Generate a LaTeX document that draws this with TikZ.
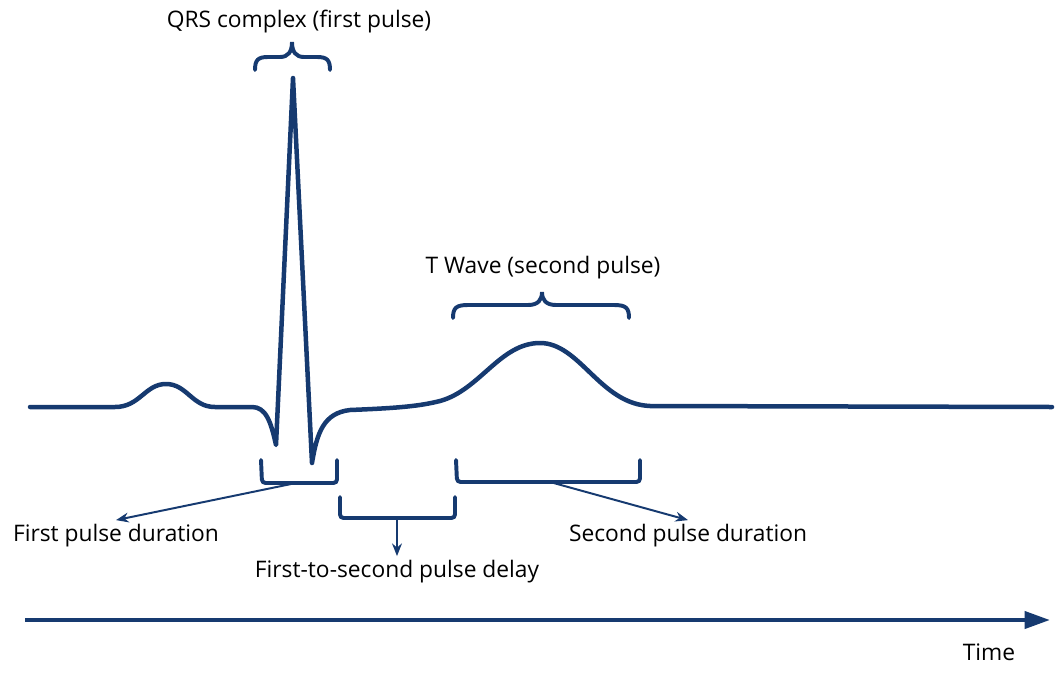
\documentclass[tikz,border=0pt]{standalone}
\usepackage{fontspec}
\setmainfont{Open Sans}
\usetikzlibrary{arrows.meta,calc}
\definecolor{ecgblue}{RGB}{22,58,112}
\tikzset{
  wave/.style = {draw=ecgblue, line width=3.2pt, line join=round, line cap=round},
  brace_line/.style = {draw=ecgblue, line width=2.8pt, line cap=round},
  bracket_line/.style = {brace_line, rounded corners=2.5pt},
  pointer/.style = {draw=ecgblue, line width=1.4pt, -{Stealth[length=9pt,width=7pt]}},
  label_txt/.style = {font=\fontsize{16.2}{19}\selectfont, text=black, inner sep=3pt},
  time_axis/.style = {draw=ecgblue, line width=3pt, -{Triangle[length=18pt,width=12pt]}}
}

\begin{document}
\begin{tikzpicture}[x=0.025cm, y=-0.025cm]
	\useasboundingbox (0,0) rectangle (1063,677);
	% ecg trace
	\draw[wave] (30,407) -- (115,407)
		.. controls (140,407) and (145,384) .. (166,384)
		.. controls (187,384) and (192,407) .. (215,407) -- (252,407)
		.. controls (266,407) and (271,422) .. (276,445)
		-- (293,78) -- (312,463)
		.. controls (317,432) and (324,413) .. (350,410)
		.. controls (400,408) and (420,406) .. (440,401)
		.. controls (480,390) and (500,343) .. (540,343)
		.. controls (580,343) and (600,404) .. (650,406) -- (1052,407);
	% braces over the pulses
	\draw[brace_line] (255,70) .. controls (255,60) and (258,57) .. (268,57) -- (280,57)
		.. controls (288,57) and (292,52) .. (292,42)
		.. controls (292,52) and (296,57) .. (304,57) -- (317,57)
		.. controls (327,57) and (330,60) .. (330,70);
	\draw[brace_line] (453,318) .. controls (453,308) and (456,305) .. (468,305) -- (528,305)
		.. controls (538,305) and (542,300) .. (542,292)
		.. controls (542,300) and (546,305) .. (556,305) -- (614,305)
		.. controls (626,305) and (629,308) .. (629,318);
	\node[label_txt] (qrs_lbl) at (299,22) {QRS complex (first pulse)};
	\node[label_txt] (twave_lbl) at (543,268) {T Wave (second pulse)};
	% brackets under the trace
	\draw[bracket_line] (261,460) -- (262,483) -- (337,483) -- (337,460);
	\draw[bracket_line] (340,497) -- (340,518) -- (455,518) -- (455,497);
	\draw[bracket_line] (456,460) -- (457,482) -- (640,482) -- (640,460);
	\coordinate (first_mid) at (296,483);
	\coordinate (delay_mid) at (397,518);
	\coordinate (second_mid) at (550,482);
	\node[label_txt] (first_lbl) at (116,536) {First pulse duration};
	\node[label_txt] (delay_lbl) at (397,572) {First-to-second pulse delay};
	\node[label_txt] (second_lbl) at (688,536) {Second pulse duration};
	\draw[pointer] (first_mid) -- (first_lbl.north);
	\draw[pointer] (delay_mid) -- (delay_lbl.north);
	\draw[pointer] (second_mid) -- (second_lbl.north);
	% time axis
	\coordinate (axis_start) at (25,620);
	\coordinate (axis_end) at (1050,620);
	\draw[time_axis] (axis_start) -- (axis_end);
	\node[label_txt] (time_lbl) at (989,652) {Time};
\end{tikzpicture}
\end{document}
